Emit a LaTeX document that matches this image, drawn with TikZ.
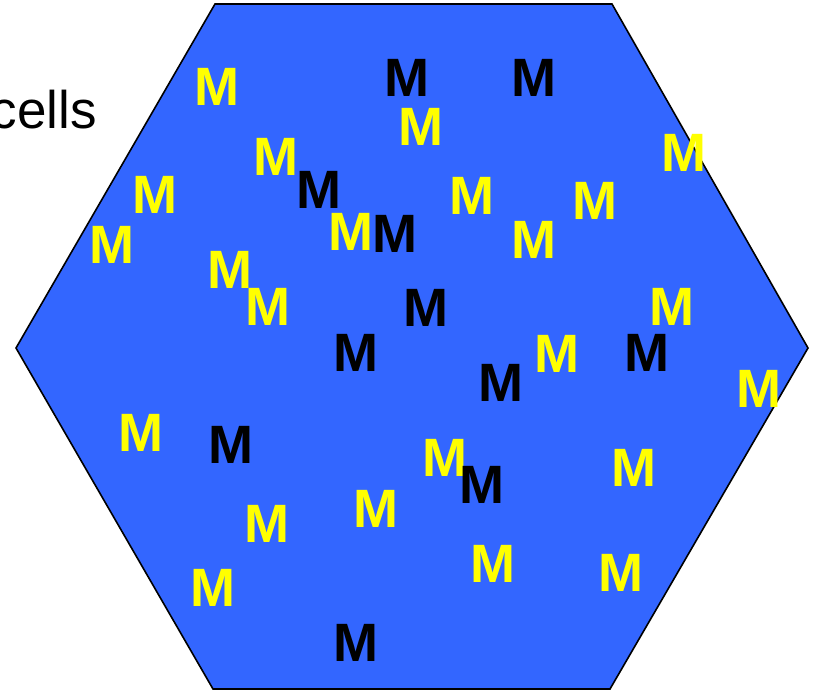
\documentclass[tikz,border=0pt]{standalone}
\usepackage{fontspec}
\setmainfont{Liberation Sans}
\definecolor{hexblue}{HTML}{3366FF}
\definecolor{myyellow}{HTML}{FFFF00}
\begin{document}
\begin{tikzpicture}[x=1pt,y=-1pt,
  mk/.style={inner sep=0pt,font=\fontsize{54}{54}\selectfont\bfseries},
  ym/.style={mk,text=myyellow},
  bm/.style={mk,text=black}]
\useasboundingbox (0,0) rectangle (817,691);
\draw[fill=hexblue,line width=1.6pt,line join=miter]
  (215,4) -- (612,4) -- (808,348) -- (610,689) -- (213,689) -- (16,348) -- cycle;
\node[anchor=base east,inner sep=0pt,font=\fontsize{53}{53}\selectfont] (cells) at (97,128) {cells};
\foreach \x/\y [count=\i] in {217/87,421/127,276/157,684/153,155/195,472/196,595/201,112/245,351/232,534/240,230/270,268/307,672/307,557/354,759/389,141/433,445/458,634/468,376/509,267/524,493/564,621/573,213/588}
  \node[ym] (y\i) at (\x,\y) {M};
\foreach \x/\y [count=\i] in {407/78,534/78,319/190,395/234,426/308,356/353,647/353,501/383,231/445,482/485,356/643}
  \node[bm] (b\i) at (\x,\y) {M};
\end{tikzpicture}
\end{document}
